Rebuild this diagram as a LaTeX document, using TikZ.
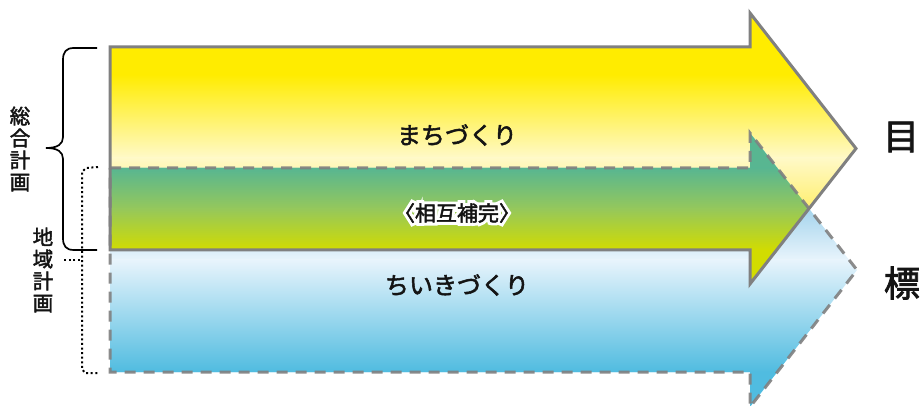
\documentclass[tikz,border=0pt]{standalone}
\usepackage{fontspec}
\newfontfamily\jp{Noto Sans CJK JP}[FakeBold=2.2]
\newfontfamily\jphalo{Noto Sans CJK JP}[FakeBold=30]
\definecolor{outl}{RGB}{128,128,128}
\definecolor{yA}{RGB}{255,236,0}
\definecolor{yB}{RGB}{255,249,200}
\definecolor{yC}{RGB}{255,238,100}
\definecolor{bA}{RGB}{160,210,235}
\definecolor{bB}{RGB}{232,244,252}
\definecolor{bC}{RGB}{80,188,224}
\definecolor{gA}{RGB}{88,182,145}
\definecolor{gB}{RGB}{150,200,90}
\definecolor{gC}{RGB}{210,220,0}
\definecolor{txt}{RGB}{20,20,20}
\tikzset{
  solidout/.style={draw=outl,line width=3pt,line join=miter},
  dashout/.style={draw=outl,line width=3pt,dash pattern=on 11pt off 8pt,opacity=0.9},
  mainlbl/.style={font=\jp\fontsize{24}{26}\selectfont,text=txt,inner sep=0pt},
  sidelbl/.style={font=\jp\fontsize{20.5}{22}\selectfont,text=txt,inner sep=0pt,align=center},
  goallbl/.style={font=\jp\fontsize{36}{38}\selectfont,text=txt,inner sep=0pt},
  midlbl/.style={font=\jp\fontsize{21}{23}\selectfont,text=txt,inner sep=0pt},
  halolbl/.style={font=\jphalo\fontsize{21}{23}\selectfont,text=white,inner sep=0pt},
  bracepath/.style={draw=black,line width=1.7pt},
  dotpath/.style={draw=black,line width=2pt,dash pattern=on 2pt off 2.6pt}
}
\begin{document}
\begin{tikzpicture}[x=1pt,y=-1pt]
\useasboundingbox (0,0) rectangle (924,406);
% yellow arrow corners
\coordinate (y1) at (110,47);
\coordinate (y2) at (750,47);
\coordinate (y3) at (750,13);
\coordinate (y4) at (856,148.5);
\coordinate (y5) at (750,284);
\coordinate (y6) at (750,250);
\coordinate (y7) at (110,250);
% blue arrow corners
\coordinate (b1) at (110,168);
\coordinate (b2) at (750,168);
\coordinate (b3) at (750,133);
\coordinate (b4) at (857,270);
\coordinate (b5) at (750,407);
\coordinate (b6) at (750,372);
\coordinate (b7) at (110,372);
% yellow fill
\begin{scope}
\clip (y1) -- (y2) -- (y3) -- (y4) -- (y5) -- (y6) -- (y7) -- cycle;
\fill[yA] (100,10) rectangle (870,75);
\shade[top color=yA,bottom color=yB] (100,74.5) rectangle (870,158);
\shade[top color=yB,bottom color=yC] (100,157.5) rectangle (870,215);
\fill[yC] (100,214.5) rectangle (870,290);
\end{scope}
% blue fill
\begin{scope}
\clip (b1) -- (b2) -- (b3) -- (b4) -- (b5) -- (b6) -- (b7) -- cycle;
\fill[bA] (100,130) rectangle (870,205);
\shade[top color=bA,bottom color=bB] (100,204.5) rectangle (870,260);
\shade[top color=bB,bottom color=bC] (100,259.5) rectangle (870,372);
\fill[bC] (100,371.5) rectangle (870,410);
\end{scope}
% overlap fill
\begin{scope}
\clip (y1) -- (y2) -- (y3) -- (y4) -- (y5) -- (y6) -- (y7) -- cycle;
\clip (b1) -- (b2) -- (b3) -- (b4) -- (b5) -- (b6) -- (b7) -- cycle;
\fill[gA] (100,130) rectangle (870,168.5);
\shade[top color=gA,bottom color=gB] (100,168) rectangle (870,209.5);
\shade[top color=gB,bottom color=gC] (100,209) rectangle (870,250.5);
\fill[gC] (100,250) rectangle (870,290);
\end{scope}
% outlines
\path[solidout] (y1) -- (y2) -- (y3) -- (y4) -- (y5) -- (y6) -- (y7) -- cycle;
\path[dashout] (b1) -- (b2) -- (b3) -- (b4) -- (b5) -- (b6) -- (b7) -- cycle;
% labels inside arrows
\node[mainlbl] (machi) at (457,135) {まちづくり};
\node[mainlbl] (chiiki) at (457,285) {ちいきづくり};
\node[halolbl] (sogohalo) at (457,213) {〈相互補完〉};
\node[midlbl] (sogo) at (457,213) {〈相互補完〉};
% goal labels
\node[goallbl] (moku) at (901,137) {目};
\node[goallbl] (hyo) at (902,283) {標};
% brace for 総合計画
\path[bracepath] (97,48) -- (74,48) .. controls (66,48) and (63,52) .. (63,60)
  -- (63,137) .. controls (63,144) and (58,148) .. (46,148)
  .. controls (58,148) and (63,152) .. (63,159)
  -- (63,238) .. controls (63,246) and (66,250) .. (74,250) -- (97,250);
% dotted bracket for 地域計画
\path[dotpath] (98,167) -- (86,168) -- (82,172) -- (82,369) -- (85,373) -- (98,373);
\path[dotpath] (80,260) -- (64,260);
% side labels
\node[sidelbl] (sogolbl) at (20,149) {総\\合\\計\\画};
\node[sidelbl] (chiikilbl) at (43,270) {地\\域\\計\\画};
\end{tikzpicture}
\end{document}
